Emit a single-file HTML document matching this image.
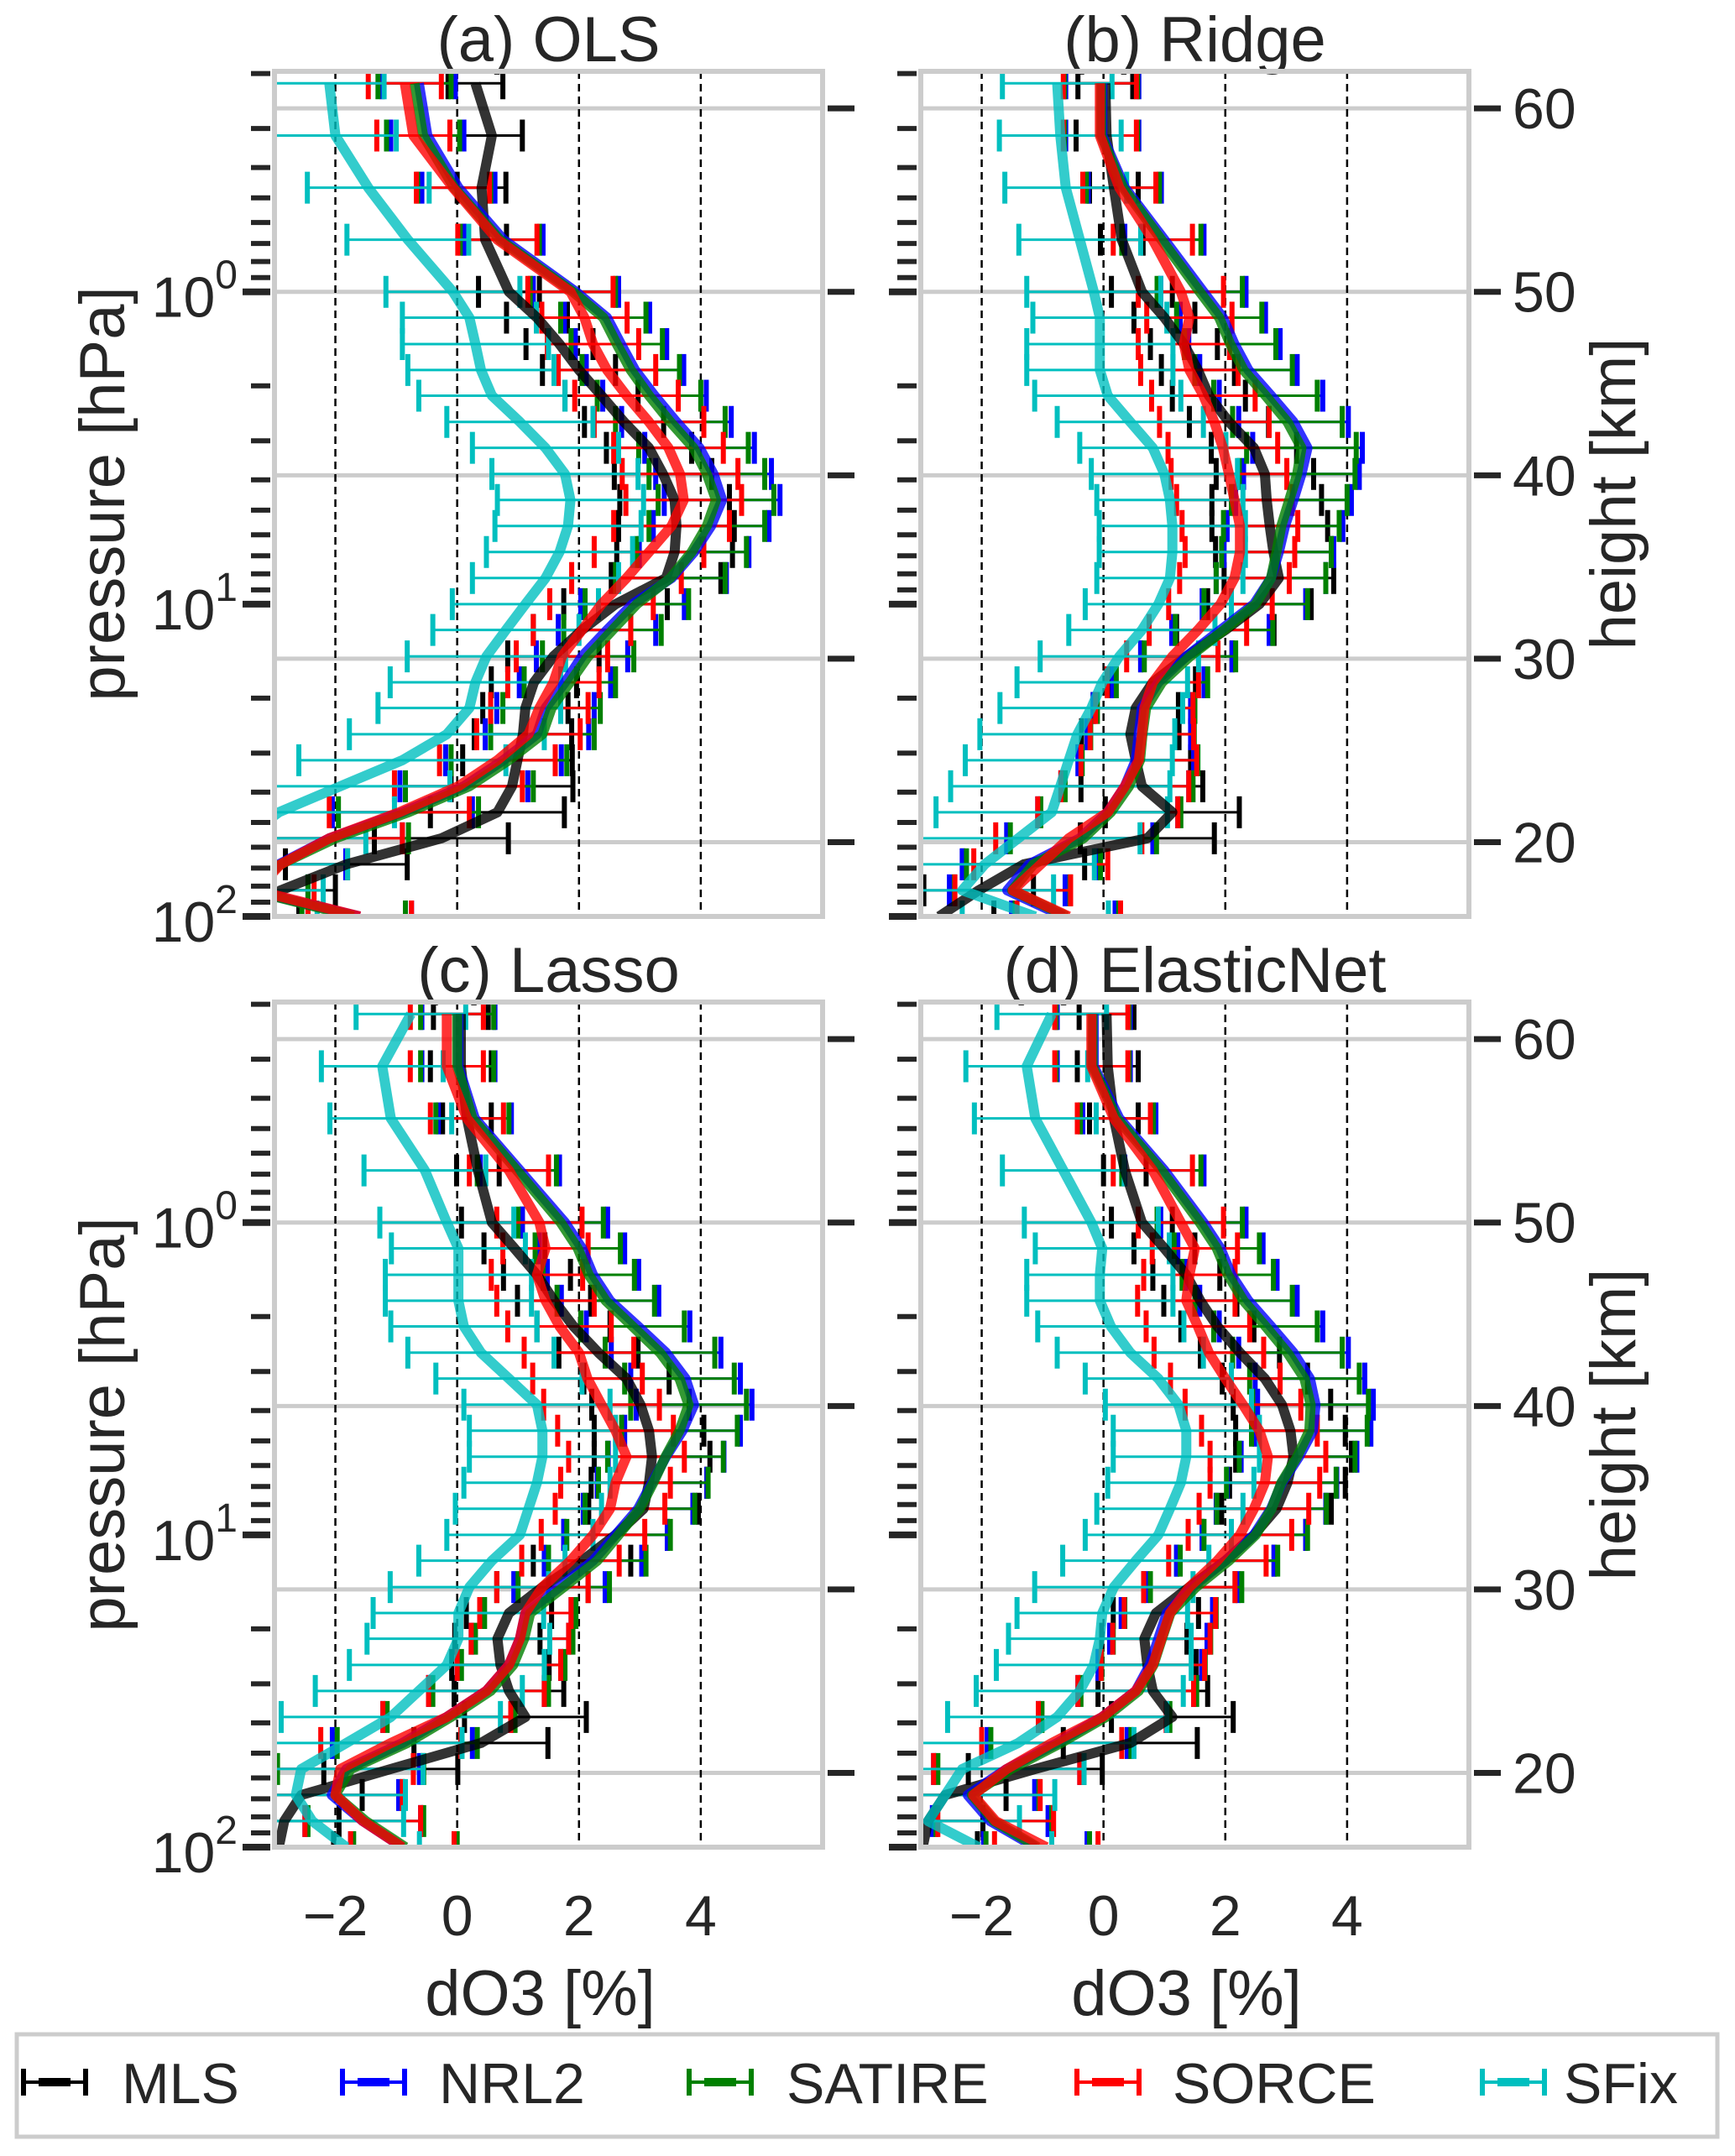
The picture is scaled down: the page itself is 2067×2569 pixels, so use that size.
<!DOCTYPE html>
<html><head><meta charset="utf-8"><style>
html,body{margin:0;padding:0;background:#fff}
svg{display:block}
text{font-family:"Liberation Sans",Arial,sans-serif;fill:#262626}
</style></head><body>
<svg id="fig" width="2067" height="2569" viewBox="0 0 2067 2569" xmlns="http://www.w3.org/2000/svg"></svg>
<script>
// pressure levels (hPa)
const levels = [0.215,0.316,0.464,0.681,1,1.21,1.47,1.78,2.15,2.61,3.16,3.83,4.64,5.62,6.81,8.25,10,12.1,14.7,17.8,21.5,26.1,31.6,38.3,46.4,56.2,68.1,82.5,100];
const seriesNames = ["MLS","NRL2","SATIRE","SORCE","SFix"];
const xTicks = [-2,0,2,4];
const heightTicks = [20,30,40,50,60];
const panelTitles = ["(a) OLS","(b) Ridge","(c) Lasso","(d) ElasticNet"];

// panel (a) OLS
const olsMLS   = [0.3,0.57,0.4,0.46,0.85,1.31,1.68,2.0,2.37,2.74,3.15,3.38,3.57,3.6,3.57,3.43,2.6,2.05,1.58,1.26,1.12,1.08,0.99,0.9,0.66,-0.26,-1.82,-2.9,-3.5];
const olsNRL2  = [-0.63,-0.49,0.02,0.76,1.95,2.46,2.69,2.92,3.24,3.6,3.98,4.21,4.35,4.17,3.89,3.52,2.88,2.46,2.05,1.77,1.45,1.31,0.76,0.11,-0.9,-2.1,-2.93,-3.4,-1.6];
const olsSATIRE= [-0.7,-0.56,-0.05,0.7,1.9,2.4,2.62,2.85,3.15,3.5,3.88,4.1,4.25,4.1,3.85,3.5,2.95,2.55,2.15,1.85,1.55,1.4,0.85,0.2,-0.8,-2.0,-2.9,-3.4,-1.7];
const olsSORCE = [-0.86,-0.72,-0.07,0.66,1.86,2.09,2.23,2.46,2.78,3.15,3.47,3.66,3.72,3.52,3.15,2.78,2.37,2.05,1.72,1.58,1.35,1.17,0.66,0.02,-0.95,-2.1,-2.9,-3.3,-1.6];
const olsSFix  = [-2.1,-2.0,-1.46,-0.81,-0.07,0.2,0.3,0.39,0.57,1.03,1.45,1.77,1.86,1.82,1.68,1.45,1.12,0.8,0.48,0.3,0.2,-0.17,-0.9,-1.92,-2.93,-3.5,-3.6,-3.7,-3.5];
// panel (b) Ridge
const ridgeMLS   = [0.03,0.05,0.17,0.3,0.63,1.0,1.32,1.55,1.73,2.06,2.47,2.65,2.68,2.73,2.79,2.88,2.56,2.0,1.36,0.81,0.53,0.44,0.53,0.63,1.13,0.72,-1.31,-2.05,-2.7];
const ridgeNRL2  = [-0.02,-0.02,0.35,1.0,1.64,1.96,2.15,2.38,2.75,3.12,3.35,3.25,3.12,2.98,2.88,2.75,2.47,1.92,1.36,0.9,0.63,0.58,0.53,0.35,0.07,-0.39,-1.22,-1.58,-0.66];
const ridgeSATIRE= [-0.04,-0.04,0.32,0.95,1.58,1.9,2.08,2.3,2.66,3.02,3.25,3.18,3.05,2.92,2.84,2.75,2.5,1.98,1.42,0.96,0.7,0.64,0.6,0.42,0.12,-0.33,-1.15,-1.5,-0.6];
const ridgeSORCE = [-0.06,-0.06,0.26,0.81,1.27,1.41,1.32,1.41,1.64,1.82,1.96,2.06,2.15,2.24,2.24,2.15,1.92,1.55,1.13,0.81,0.67,0.63,0.58,0.35,0.07,-0.57,-1.03,-1.49,-0.57];
const ridgeSFix  = [-0.76,-0.71,-0.62,-0.39,-0.16,-0.06,-0.06,-0.06,0.07,0.44,0.81,1.0,1.09,1.13,1.13,1.09,0.9,0.63,0.26,-0.02,-0.2,-0.43,-0.57,-0.71,-0.85,-1.4,-1.95,-2.32,-1.12];
// panel (c) Lasso
const lassoMLS   = [0.06,0.06,0.16,0.34,0.57,0.94,1.31,1.59,1.91,2.32,2.78,3.01,3.15,3.2,3.15,3.06,2.6,2.05,1.4,0.85,0.66,0.71,0.85,1.12,0.39,-1.09,-2.56,-2.84,-2.93];
const lassoNRL2  = [0.02,0.02,0.29,1.03,1.77,2.05,2.23,2.51,2.97,3.43,3.75,3.89,3.7,3.43,3.2,2.97,2.6,2.23,1.68,1.12,1.03,0.85,0.48,-0.17,-0.9,-1.82,-2.06,-1.55,-0.9];
const lassoSATIRE= [0.0,0.0,0.25,0.98,1.7,1.98,2.16,2.44,2.88,3.33,3.65,3.8,3.65,3.42,3.22,3.0,2.65,2.3,1.75,1.2,1.1,0.92,0.55,-0.1,-0.82,-1.75,-2.0,-1.5,-0.85];
const lassoSORCE = [-0.17,-0.17,0.16,0.85,1.35,1.45,1.31,1.45,1.68,2.0,2.14,2.37,2.6,2.78,2.6,2.51,2.23,1.86,1.4,1.12,1.03,0.85,0.48,-0.17,-1.09,-1.92,-2.0,-1.55,-0.9];
const lassoSFix  = [-0.76,-1.23,-1.09,-0.53,-0.17,0.02,0.02,0.02,0.11,0.39,0.85,1.31,1.4,1.4,1.31,1.17,1.03,0.57,0.2,0.02,0.02,-0.17,-0.63,-1.09,-1.82,-2.56,-2.65,-2.38,-1.82];
// panel (d) ElasticNet
const enetMLS   = [0.05,0.07,0.17,0.35,0.63,1.0,1.36,1.59,1.87,2.24,2.65,2.93,3.07,3.12,3.02,2.84,2.47,2.0,1.41,0.86,0.67,0.72,0.81,1.13,0.44,-1.12,-2.6,-2.88,-2.97];
const enetNRL2  = [-0.16,-0.16,0.26,1.0,1.64,1.92,2.1,2.38,2.75,3.12,3.39,3.48,3.44,3.21,2.93,2.75,2.47,2.0,1.46,1.04,0.9,0.76,0.53,-0.02,-0.76,-1.59,-2.23,-1.86,-1.12];
const enetSATIRE= [-0.18,-0.18,0.22,0.95,1.58,1.86,2.04,2.3,2.66,3.02,3.3,3.4,3.38,3.18,2.92,2.76,2.5,2.06,1.52,1.1,0.96,0.82,0.58,0.04,-0.7,-1.52,-2.16,-1.8,-1.08];
const enetSORCE = [-0.2,-0.2,0.17,0.81,1.27,1.5,1.41,1.36,1.55,1.73,2.0,2.29,2.56,2.7,2.65,2.47,2.24,1.87,1.41,1.09,0.95,0.81,0.53,-0.02,-0.85,-1.59,-2.14,-1.77,-0.94];
const enetSFix  = [-0.85,-1.26,-1.12,-0.66,-0.2,-0.02,-0.06,-0.06,0.12,0.44,0.9,1.23,1.36,1.36,1.27,1.09,0.9,0.53,0.17,-0.02,-0.06,-0.16,-0.39,-0.76,-1.4,-2.32,-2.6,-2.88,-2.05];

// error half-widths (shared across panels)
const errMLS   = [0.45,0.5,0.4,0.35,0.5,0.5,0.55,0.6,0.6,0.65,0.7,0.8,0.9,0.95,0.95,0.9,0.85,0.8,0.75,0.7,0.7,0.8,0.9,1.0,1.1,1.1,1.0,0.9,0.9];
const errSolar = [0.6,0.6,0.6,0.65,0.7,0.7,0.75,0.8,0.85,0.9,0.9,0.95,0.95,0.95,0.9,0.9,0.85,0.8,0.75,0.75,0.8,0.85,0.95,1.05,1.15,1.2,1.1,0.95,0.85];
const errSFix  = [0.9,1.0,1.0,1.0,1.1,1.1,1.2,1.2,1.2,1.2,1.2,1.2,1.2,1.2,1.2,1.2,1.2,1.2,1.3,1.4,1.5,1.6,1.7,1.8,1.9,2.0,1.8,1.5,1.2];

const colors = ["#000000","#0000ff","#008000","#ff0000","#00bfbf"];
const NS = "http://www.w3.org/2000/svg";
const svg = document.getElementById("fig");
function el(tag, attrs, parent){ const e=document.createElementNS(NS,tag); for(const k in attrs) e.setAttribute(k,attrs[k]); (parent||svg).appendChild(e); return e; }

const PW=653, PH=1007, XMIN=-3, XMAX=6;
const LPTOP=-0.706, LPBOT=2;
const panels = [
  {L:327,T:85,  data:[olsMLS,olsNRL2,olsSATIRE,olsSORCE,olsSFix], leftLabels:true, bottom:false, rightLabels:false},
  {L:1097,T:85, data:[ridgeMLS,ridgeNRL2,ridgeSATIRE,ridgeSORCE,ridgeSFix], leftLabels:false, bottom:false, rightLabels:true},
  {L:327,T:1194,data:[lassoMLS,lassoNRL2,lassoSATIRE,lassoSORCE,lassoSFix], leftLabels:true, bottom:true, rightLabels:false},
  {L:1097,T:1194,data:[enetMLS,enetNRL2,enetSATIRE,enetSORCE,enetSFix], leftLabels:false, bottom:true, rightLabels:true}
];
const errs = [errMLS,errSolar,errSolar,errSolar,errSFix];
const panelNames = ["ols","ridge","lasso","elasticnet"];

panels.forEach((p,pi)=>{
  const xs = v => p.L + (v-XMIN)/(XMAX-XMIN)*PW;
  const yp = pr => p.T + (Math.log10(pr)-LPTOP)/(LPBOT-LPTOP)*PH;
  const y1 = yp(1), kmPx = 21.86;
  const yh = h => y1 - (h-50)*kmPx;
  const g = el("g",{});
  
  
  const cid = "clip"+pi;
  const cp = el("clipPath",{id:cid},g); el("rect",{x:p.L,y:p.T,width:PW,height:PH},cp);
  const t = el("text",{x:p.L+PW/2,y:p.T-12,"text-anchor":"middle","font-size":76},g); t.textContent=panelTitles[pi];
  
  
  heightTicks.forEach(h=>{
    const y=yh(h);
    const gl=el("line",{x1:p.L,x2:p.L+PW,y1:y,y2:y,stroke:"#cccccc","stroke-width":5},g);
    
    
    const tk=el("line",{x1:p.L+PW+6,x2:p.L+PW+38,y1:y,y2:y,stroke:"#262626","stroke-width":7},g);
    
    
    if(p.rightLabels){
      const tl=el("text",{x:p.L+PW+52,y:y+24,"font-size":68},g); tl.textContent=String(h);
      
      
    }
  });
  xTicks.forEach(v=>{
    const dl=el("line",{x1:xs(v),x2:xs(v),y1:p.T,y2:p.T+PH,stroke:"#000","stroke-width":2.5,"stroke-dasharray":"9,6"},g);
    
    
    if(p.bottom){
      const xl=el("text",{x:xs(v),y:p.T+PH+105,"text-anchor":"middle","font-size":68},g);
      xl.textContent = v<0 ? "\u2212"+Math.abs(v) : String(v);
      
      
    }
  });
  for(let dec=-1; dec<=2; dec++){
    for(let m=1; m<=9; m++){
      const pr=m*Math.pow(10,dec);
      const lp=Math.log10(pr);
      if(lp<LPTOP-1e-6||lp>LPBOT+1e-6) continue;
      const y=yp(pr), major=(m===1);
      const tk=el("line",{x1:p.L-(major?38:28),x2:p.L-5,y1:y,y2:y,stroke:"#262626","stroke-width":major?8:6},g);
      
      
      if(major && p.leftLabels){
        const tl=el("text",{x:p.L-44,y:y+30,"text-anchor":"end","font-size":68},g);
        const a=el("tspan",{},tl); a.textContent="10";
        const b=el("tspan",{"font-size":48,dy:-34},tl); b.textContent=String(dec);
        
        
      }
    }
  }
  const eg=el("g",{"clip-path":"url(#"+cid+")"},g);
  p.data.forEach((arr,si)=>{
    arr.forEach((v,i)=>{
      const y=yp(levels[i]), lo=xs(v-errs[si][i]), hi=xs(v+errs[si][i]);
      const eb=el("g",{stroke:colors[si]},eg);
      
      
      el("line",{x1:lo,x2:hi,y1:y,y2:y,"stroke-width":3},eb);
      el("line",{x1:lo,x2:lo,y1:y-19,y2:y+19,"stroke-width":6},eb);
      el("line",{x1:hi,x2:hi,y1:y-19,y2:y+19,"stroke-width":6},eb);
    });
  });
  p.data.forEach((arr,si)=>{
    const pts=arr.map((v,i)=>xs(v).toFixed(1)+","+yp(levels[i]).toFixed(1)).join(" ");
    const pl=el("polyline",{points:pts,fill:"none",stroke:colors[si],"stroke-width":12,"stroke-opacity":0.8,"stroke-linejoin":"round","clip-path":"url(#"+cid+")"},g);
    
    
  });
  const fr=el("rect",{x:p.L,y:p.T,width:PW,height:PH,fill:"none",stroke:"#cccccc","stroke-width":6},g);
  
  
  if(p.leftLabels){
    const cy=p.T+PH/2;
    const yl=el("text",{x:0,y:0,"text-anchor":"middle","font-size":76,transform:"translate(148,"+cy+") rotate(-90)"},g);
    yl.textContent="pressure [hPa]";
    
    
  }
  if(p.rightLabels){
    const cy=p.T+PH/2;
    const hl=el("text",{x:0,y:0,"text-anchor":"middle","font-size":76,transform:"translate(1948,"+cy+") rotate(-90)"},g);
    hl.textContent="height [km]";
    
    
  }
  if(p.bottom){
    const xl=el("text",{x:p.L+PW/2-10,y:p.T+PH+200,"text-anchor":"middle","font-size":76},g);
    xl.textContent="dO3 [%]";
    
    
  }
});

const lg=el("g",{});


el("rect",{x:20,y:2424,width:2026,height:122,fill:"#fff",stroke:"#cccccc","stroke-width":5},lg);
const iconX=[28,408,821,1283,1766];
const textX=[145,523,937,1397,1863];
seriesNames.forEach((n,i)=>{
  const ent=el("g",{},lg);
  
  
  const cy=2481, x0=iconX[i], x1=iconX[i]+74;
  el("line",{x1:x0,x2:x1,y1:cy,y2:cy,stroke:colors[i],"stroke-width":4},ent);
  el("line",{x1:x0+18,x2:x1-18,y1:cy,y2:cy,stroke:colors[i],"stroke-width":10},ent);
  el("line",{x1:x0,x2:x0,y1:cy-16,y2:cy+16,stroke:colors[i],"stroke-width":6},ent);
  el("line",{x1:x1,x2:x1,y1:cy-16,y2:cy+16,stroke:colors[i],"stroke-width":6},ent);
  const t=el("text",{x:textX[i],y:cy+25,"font-size":68},ent); t.textContent=n;
});
</script>
</body></html>
